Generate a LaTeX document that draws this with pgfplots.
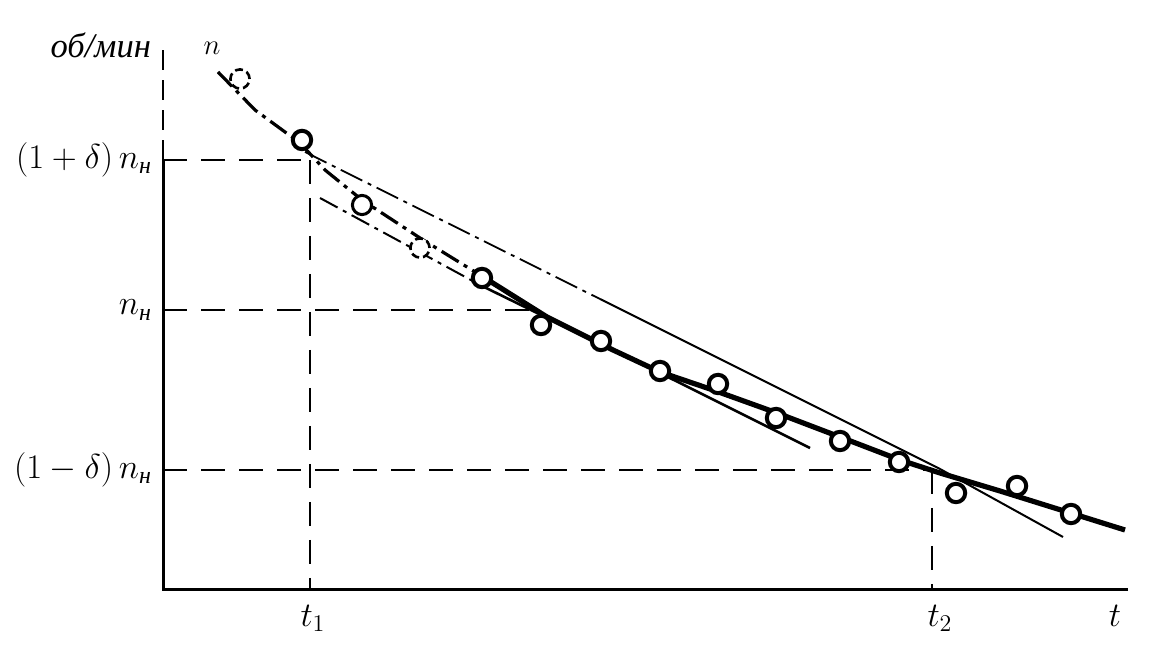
\documentclass[border=0pt]{standalone}
\usepackage{amsmath}
\usepackage{fontspec}
\setmainfont{Liberation Serif}
\usepackage{pgfplots}
\pgfplotsset{compat=1.18}
\begin{document}
\begin{tikzpicture}[x=0.5pt,y=0.5pt]
\begin{axis}[
  at={(163,66)}, anchor=south west,
  width=482.5pt, height=270pt, scale only axis,
  xmin=163, xmax=1128, ymin=66, ymax=606,
  axis line style={draw=none}, tick style={draw=none},
  clip=false,
  xtick={313,940,1115},
  xticklabels={$t_1$,$t_2$,$t$},
  ytick={186,346,496},
  yticklabels={$(1-\delta)\,n_{\text{\itshape н}}$,$n_{\text{\itshape н}}$,$(1+\delta)\,n_{\text{\itshape н}}$},
  yticklabel style={font=\LARGE, xshift=-2pt},
  xticklabel style={font=\LARGE, yshift=-4pt},
]
% axes
\addplot[black, line width=1.5pt] coordinates {(1128,66) (163,66) (163,496)};
\addplot[black, line width=1.3pt, dash pattern=on 10pt off 5pt] coordinates {(163,496) (163,606)};
% guide lines
\addplot[black, line width=1.1pt, dash pattern=on 12pt off 7pt] coordinates {(163,496) (302,496)};
\addplot[black, line width=1.1pt, dash pattern=on 12pt off 7pt] coordinates {(163,346) (535,346)};
\addplot[black, line width=1.1pt, dash pattern=on 12pt off 7pt] coordinates {(163,186) (932,186)};
\addplot[black, line width=1.1pt, dash pattern=on 12pt off 7pt] coordinates {(310,496) (310,66)};
\addplot[black, line width=1.1pt, dash pattern=on 12pt off 7pt] coordinates {(932,186) (932,66)};
% upper thin line
\addplot[black, line width=0.9pt, dash pattern=on 12pt off 3pt on 2pt off 3pt] coordinates {(305,504) (600,357)};
\addplot[black, line width=1pt] coordinates {(600,357) (940,187) (1063,119)};
% lower thin line
\addplot[black, line width=1pt, dash pattern=on 10pt off 3pt on 2pt off 3pt] coordinates {(320,458) (480,371)};
\addplot[black, line width=1.3pt] coordinates {(480,371) (680,273) (810,208)};
% main curve
\addplot[black, line width=1.6pt, dash pattern=on 10pt off 3pt on 2pt off 3pt] coordinates {(218,584) (255,546) (300,513) (325,486) (362,456) (420,418) (480,381)};
\addplot[black, line width=2.6pt] coordinates {(480,381) (547,339) (613,306) (660,284) (713,266) (777,243) (840,219) (900,196) (940,183) (1000,165) (1125,126)};
% measured points
\addplot[only marks, mark=*, mark size=4.8pt, mark options={fill=white, draw=black, line width=1.3pt, dash pattern=on 4pt off 2pt}] coordinates {(240,577) (420,408)};
\addplot[only marks, mark=*, mark size=4.8pt, mark options={fill=white, draw=black, line width=1.5pt}] coordinates {(362,451)};
\addplot[only marks, mark=*, mark size=4.6pt, mark options={fill=white, draw=black, line width=2pt}] coordinates {
(302,516) (482,378) (541,331) (601,315) (660,285) (718,272) (776,238) (840,215) (899,194) (956,163) (1017,170) (1071,142)};
% axis annotations
\node[anchor=east, font=\LARGE\itshape] at (axis cs:158,611) {об/мин};
\node[font=\Large] at (axis cs:212,608) {$n$};
\end{axis}
\pgfresetboundingbox
\useasboundingbox (0,0) rectangle (1155,656);
\end{tikzpicture}
\end{document}
